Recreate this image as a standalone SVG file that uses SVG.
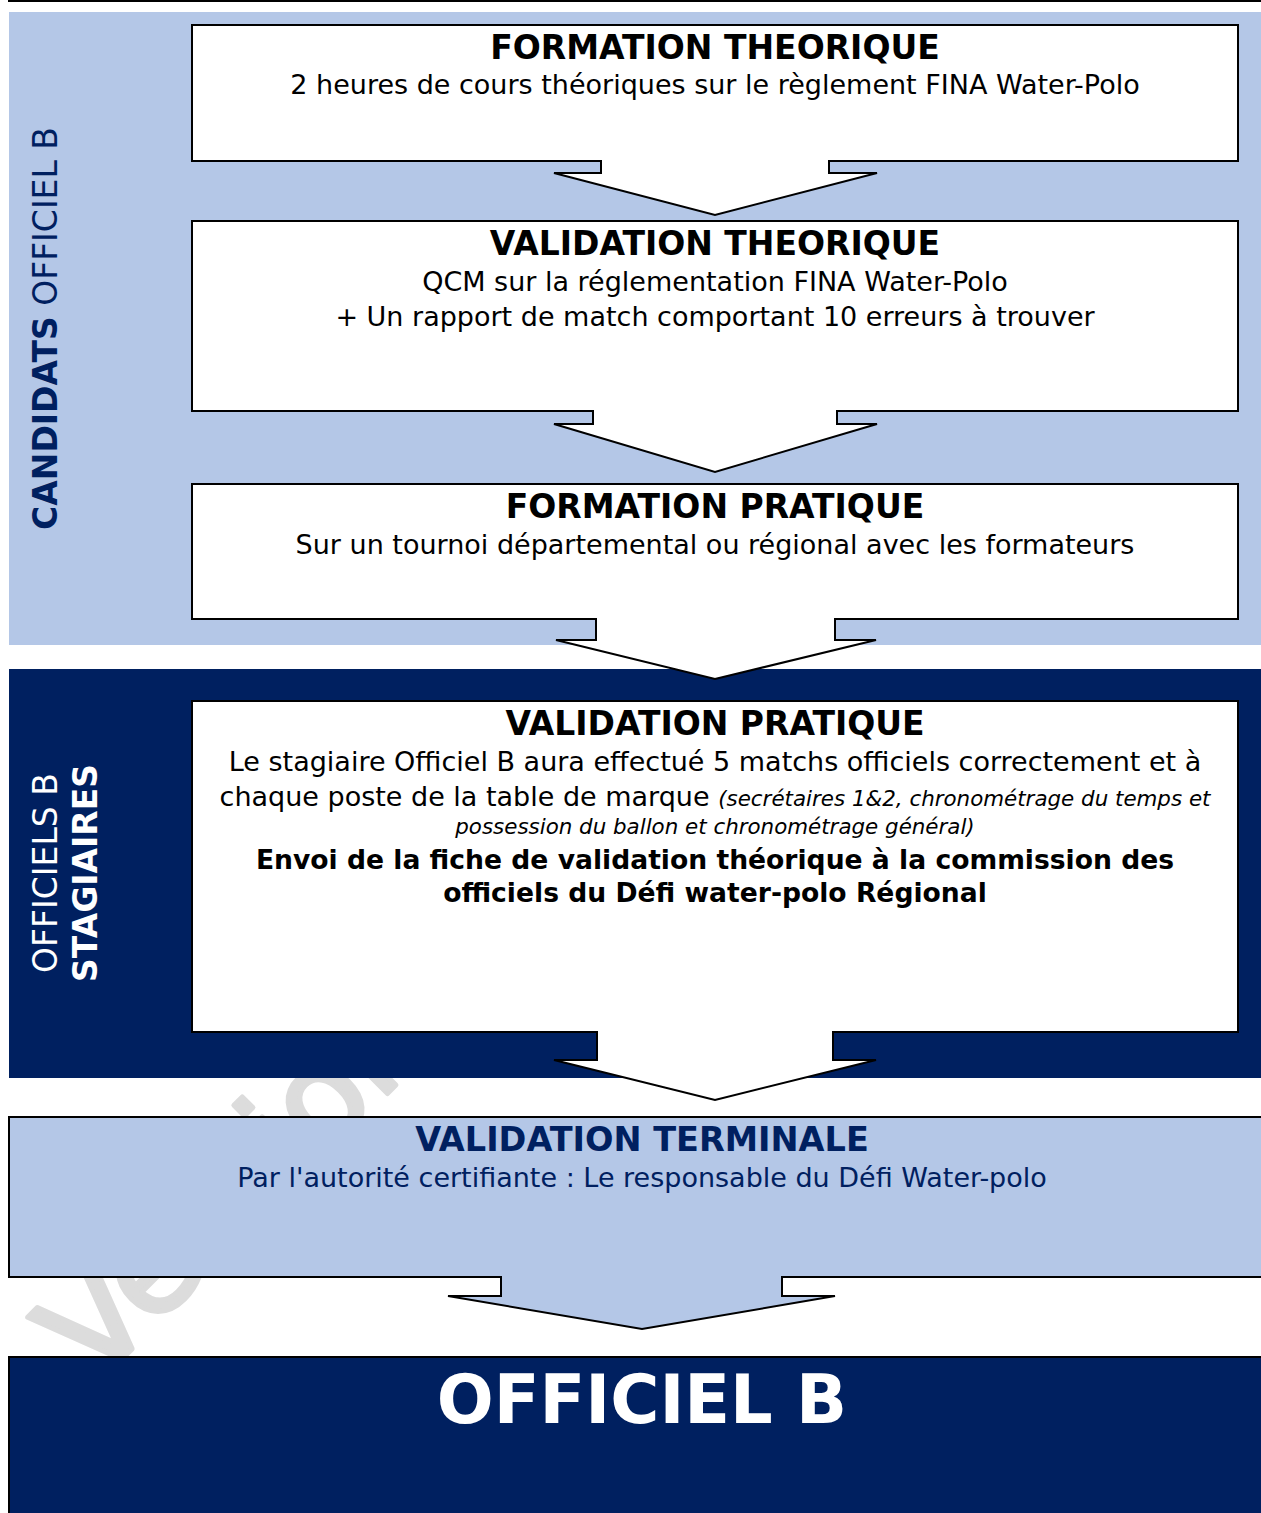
<svg xmlns="http://www.w3.org/2000/svg" width="1261" height="1513" viewBox="0 0 1261 1513">
<style>
text{font-family:"DejaVu Sans","Verdana",sans-serif;}
.t{font-weight:bold;font-size:33px;fill:#000;text-anchor:middle;}
.s{font-size:27px;fill:#000;text-anchor:middle;}
.box{fill:#fff;stroke:#000;stroke-width:2;}
.nv{fill:#002060;}
.lb{fill:#B4C7E7;}
</style>
<!-- watermark -->
<text x="95" y="1386" transform="rotate(-45 95 1386)" style="font-family:'DejaVu Sans',sans-serif;font-size:132px;fill:#dcdcdc;stroke:#dcdcdc;stroke-width:5;stroke-linejoin:round;">Version</text>
<line x1="8" y1="1" x2="1261" y2="1" stroke="#000" stroke-width="2"/>
<g id="band-candidats">
<rect class="lb" x="9" y="12" width="1252" height="633"/>
<text transform="translate(57 328.5) rotate(-90)" text-anchor="middle" style="font-size:33px;fill:#002060;"><tspan font-weight="bold">CANDIDATS</tspan> OFFICIEL B</text>
</g>
<g id="band-stagiaires">
<rect class="nv" x="9" y="669" width="1252" height="409"/>
<text transform="translate(57 873) rotate(-90)" text-anchor="middle" style="font-size:33px;fill:#fff;">OFFICIELS B</text>
<text transform="translate(97 873) rotate(-90)" text-anchor="middle" style="font-size:33px;fill:#fff;font-weight:bold;">STAGIAIRES</text>
</g>
<g id="connectors"></g>
<g id="formation-theorique">
<path class="box" d="M192,25 H1238 V161 H829 V173 H877 L715,215 L554,173 H601 V161 H192 Z"/>
<text class="t" x="715" y="59">FORMATION THEORIQUE</text>
<text class="s" x="715" y="94">2 heures de cours théoriques sur le règlement FINA Water-Polo</text>
</g>
<g id="validation-theorique">
<path class="box" d="M192,221 H1238 V411 H837 V424 H877 L715,472 L554,424 H593 V411 H192 Z"/>
<text class="t" x="715" y="255">VALIDATION THEORIQUE</text>
<text class="s" x="715" y="291">QCM sur la réglementation FINA Water-Polo</text>
<text class="s" x="715" y="326">+ Un rapport de match comportant 10 erreurs à trouver</text>
</g>
<g id="formation-pratique">
<path class="box" d="M192,484 H1238 V619 H835 V640 H876 L715,679 L556,640 H596 V619 H192 Z"/>
<text class="t" x="715" y="518">FORMATION PRATIQUE</text>
<text class="s" x="715" y="554">Sur un tournoi départemental ou régional avec les formateurs</text>
</g>
<g id="validation-pratique">
<path class="box" d="M192,701 H1238 V1032 H833 V1060 H876 L715,1100 L554,1060 H597 V1032 H192 Z"/>
<text class="t" x="715" y="735">VALIDATION PRATIQUE</text>
<text class="s" x="715" y="771">Le stagiaire Officiel B aura effectué 5 matchs officiels correctement et à</text>
<text class="s" x="715" y="806">chaque poste de la table de marque <tspan font-style="italic" font-size="21.4px">(secrétaires 1&amp;2, chronométrage du temps et</tspan></text>
<text class="s" x="715" y="834" font-style="italic" style="font-size:21.4px">possession du ballon et chronométrage général)</text>
<text class="s" x="715" y="869" font-weight="bold" style="font-size:26.6px">Envoi de la fiche de validation théorique à la commission des</text>
<text class="s" x="715" y="902" font-weight="bold" style="font-size:26.6px">officiels du Défi water-polo Régional</text>
</g>
<g id="validation-terminale">
<path d="M9,1117 H1270 V1277 H782 V1296 H835 L642,1329 L448,1296 H501 V1277 H9 Z" fill="#B4C7E7" stroke="#000" stroke-width="2"/>
<text class="t" x="642" y="1151" style="fill:#002060;font-size:33.5px">VALIDATION TERMINALE</text>
<text class="s" x="642" y="1187" style="fill:#002060">Par l'autorité certifiante : Le responsable du Défi Water-polo</text>
</g>
<g id="officiel-b">
<rect x="9" y="1357" width="1262" height="170" fill="#002060" stroke="#000" stroke-width="2"/>
<text x="642" y="1423" text-anchor="middle" style="font-size:67px;font-weight:bold;fill:#fff;">OFFICIEL B</text>
</g>
</svg>
